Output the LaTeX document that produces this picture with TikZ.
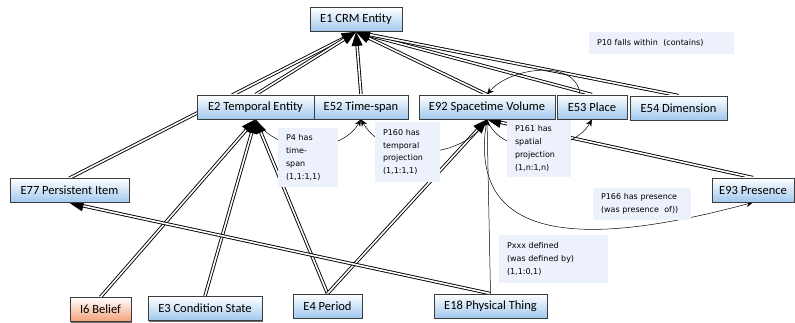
\documentclass[tikz,border=0pt]{standalone}
\usepackage{fontspec}
\setmainfont{Carlito}
\newfontfamily\notefont{DejaVu Sans}
\usetikzlibrary{arrows.meta, positioning, shadows, calc}
\pgfdeclarelayer{background}
\pgfsetlayers{background,main}
\definecolor{boxblue}{RGB}{160,200,238}
\definecolor{boxorange}{RGB}{244,160,120}
\definecolor{notebg}{RGB}{237,241,252}
\definecolor{boxline}{RGB}{60,60,60}

\begin{document}
\begin{tikzpicture}[x=1pt, y=1pt,
  entity/.style={draw=boxline, thick, top color=white, bottom color=boxblue,
    minimum height=24pt, inner sep=0pt, font=\fontsize{12.5}{14}\selectfont,
    drop shadow={shadow xshift=1pt, shadow yshift=-1pt, fill=black!80, opacity=0.7}},
  belief/.style={entity, bottom color=boxorange},
  note/.style={fill=notebg, inner xsep=8pt, inner ysep=3pt, align=left,
    font=\notefont\fontsize{8}{12.7}\selectfont},
  isa/.style={double=white, double distance=1.6pt, line width=0.9pt, shorten >=12pt},
  isatip/.style={line width=0.8pt, -{Triangle[length=14pt, width=11pt]}},
  prop/.style={line width=0.5pt, -{Stealth[length=7pt, width=6pt]}}]
\useasboundingbox (0,0) rectangle (795,-323);

% classes
\node[entity, minimum width=92pt] (e1) at (356,-19.5) {E1 CRM Entity};
\node[entity, minimum width=117pt] (e2) at (255.5,-107) {E2 Temporal Entity};
\node[entity, minimum width=94pt] (e52) at (361,-107) {E52 Time-span};
\node[entity, minimum width=136pt] (e92) at (487,-107) {E92 Spacetime Volume};
\node[entity, minimum width=70pt] (e53) at (592,-107) {E53 Place};
\node[entity, minimum width=97pt] (e54) at (678.5,-108) {E54 Dimension};
\node[entity, minimum width=119pt] (e77) at (69.5,-190.5) {E77 Persistent Item};
\node[entity, minimum width=82pt] (e93) at (753,-190) {E93 Presence};
\node[belief, minimum width=61pt] (i6) at (100.5,-309.5) {I6 Belief};
\node[entity, minimum width=114pt] (e3) at (205,-308.5) {E3 Condition State};
\node[entity, minimum width=69pt] (e4) at (327.5,-306) {E4 Period};
\node[entity, minimum width=113pt] (e18) at (490.5,-306) {E18 Physical Thing};

% property labels
\node[note, text width=129pt, minimum height=22pt] (p10) at (661.5,-43) {P10 falls within~ (contains)};
\node[note, text width=44pt, minimum height=59pt] (p4) at (308,-157.5) {P4 has\\time-\\span\\(1,1:1,1)};
\node[note, text width=49pt, minimum height=60pt] (p160) at (407.5,-152) {P160 has\\temporal\\projection\\(1,1:1,1)};
\node[note, text width=48pt, minimum height=57pt] (p161) at (539,-148.5) {P161 has\\spatial\\projection\\(1,n:1,n)};
\node[note, text width=82pt, minimum height=32pt] (p166) at (642,-204) {P166 has presence\\(was presence~ of))};
\node[note, text width=93pt, minimum height=48pt] (pxxx) at (553.5,-259) {Pxxx defined\\(was defined by)\\(1,1:0,1)};

\begin{pgfonlayer}{background}
% is-a links, child north to parent south
\foreach \sub/\super in {e77/e1, e2/e1, e52/e1, e92/e1, e53/e1, e54/e1,
    i6/e2, e3/e2, e4/e2, e4/e92, e93/e92, e18/e77} {
  \draw[isa] (\sub.north) -- (\super.south);
  \draw[isatip] ($(\super.south)!14pt!(\sub.north)$) -- (\super.south);
}
% properties
\draw[prop] (e2.south) to[out=-60, in=-120] (e52.south);
\draw[prop] (e92.south) to[out=-120, in=-60] (e52.south);
\draw[prop] (e92.south) to[out=-70, in=-120] (e53.south);
\draw[prop] (e92.south) to[out=-100, in=195, looseness=1.3] (e93.south);
\draw[prop] ([xshift=-12pt]e53.north) to[out=95, in=50] (e92.north);
\draw[prop] (e18.north) -- (e92.south);
\end{pgfonlayer}
\end{tikzpicture}
\end{document}
